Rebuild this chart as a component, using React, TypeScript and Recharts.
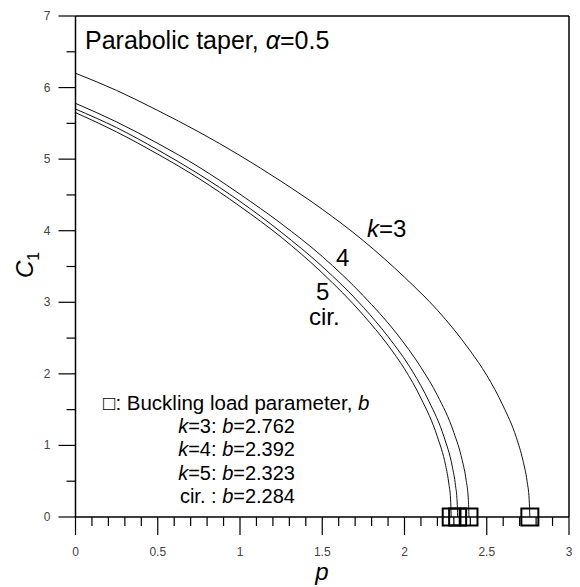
import { ComposedChart, Line, Scatter, XAxis, YAxis, ReferenceLine } from "recharts";

// curve k=3
const k3P = [0, 0.25, 0.5, 0.75, 1.0, 1.25, 1.5, 1.75, 2.0, 2.2, 2.4, 2.5, 2.6, 2.68, 2.72, 2.745, 2.758, 2.762];
const k3C = [6.2, 5.96, 5.68, 5.38, 5.05, 4.69, 4.3, 3.86, 3.35, 2.89, 2.32, 1.98, 1.55, 1.11, 0.79, 0.5, 0.24, 0];
// curve k=4
const k4P = [0, 0.25, 0.5, 0.75, 1.0, 1.25, 1.5, 1.75, 1.95, 2.1, 2.2, 2.3, 2.35, 2.375, 2.388, 2.392];
const k4C = [5.78, 5.52, 5.22, 4.89, 4.51, 4.1, 3.64, 3.09, 2.57, 2.09, 1.7, 1.18, 0.8, 0.51, 0.25, 0];
// curve k=5
const k5P = [0, 0.25, 0.5, 0.75, 1.0, 1.25, 1.5, 1.75, 1.9, 2.05, 2.15, 2.24, 2.29, 2.31, 2.32, 2.323];
const k5C = [5.7, 5.44, 5.13, 4.79, 4.41, 3.98, 3.5, 2.93, 2.52, 2.03, 1.61, 1.12, 0.71, 0.44, 0.21, 0];
// circular
const cirP = [0, 0.25, 0.5, 0.75, 1.0, 1.25, 1.5, 1.75, 1.9, 2.0, 2.1, 2.2, 2.25, 2.27, 2.28, 2.284];
const cirC = [5.65, 5.38, 5.07, 4.73, 4.34, 3.91, 3.41, 2.82, 2.4, 2.07, 1.66, 1.12, 0.72, 0.46, 0.25, 0];

// buckling load parameter b
const bucklingNames = ["k=3", "k=4", "k=5", "cir."];
const bucklingB = [2.762, 2.392, 2.323, 2.284];

const xTicks = [0, 0.1, 0.2, 0.3, 0.4, 0.5, 0.6, 0.7, 0.8, 0.9, 1, 1.1, 1.2, 1.3, 1.4, 1.5, 1.6, 1.7, 1.8, 1.9, 2, 2.1, 2.2, 2.3, 2.4, 2.5, 2.6, 2.7, 2.8, 2.9, 3];
const xLabels = ["0", "0.5", "1", "1.5", "2", "2.5", "3"];
const yTicks = [0, 0.5, 1, 1.5, 2, 2.5, 3, 3.5, 4, 4.5, 5, 5.5, 6, 6.5, 7];
const yLabels = ["0", "1", "2", "3", "4", "5", "6", "7"];

const toRows = (ps: number[], cs: number[]) => ps.map((p, i) => ({ p, c: cs[i] }));
const curves = [toRows(k3P, k3C), toRows(k4P, k4C), toRows(k5P, k5C), toRows(cirP, cirC)];
const boxes = bucklingB.map((b, i) => ({ p: b, c: 0, name: bucklingNames[i] }));

const font = "'Liberation Sans', Arial, sans-serif";

const XTick = (props: any) => {
  const { x, y, payload } = props;
  const v = Math.round(payload.value * 10) / 10;
  const major = Math.abs(v * 2 - Math.round(v * 2)) < 1e-6;
  const label = xLabels.find((l) => Math.abs(parseFloat(l) - v) < 1e-6);
  return (
    <g>
      <line x1={x} x2={x} y1={y} y2={y + (major ? 18 : 9)} stroke="#000" strokeWidth={1.2} />
      {label && (
        <text x={x} y={y + 39} textAnchor="middle" fontSize={12} fill="#444" fontFamily={font}>{label}</text>
      )}
    </g>
  );
};

const YTick = (props: any) => {
  const { x, y, payload } = props;
  const v = payload.value;
  const major = Math.abs(v - Math.round(v)) < 1e-6;
  const label = yLabels.find((l) => Math.abs(parseFloat(l) - v) < 1e-6);
  return (
    <g>
      <line x1={x} x2={x - (major ? 17 : 9)} y1={y} y2={y} stroke="#000" strokeWidth={1.2} />
      {label && (
        <text x={x - 25} y={y + 4} textAnchor="end" fontSize={12} fill="#444" fontFamily={font}>{label}</text>
      )}
    </g>
  );
};

const Box = (props: any) => {
  const { cx, cy } = props;
  return <rect x={cx - 8.5} y={cy - 8.5} width={17} height={17} fill="none" stroke="#000" strokeWidth={2} />;
};

export default function App() {
  return (
    <div style={{ position: "absolute", left: 0, top: 0, width: 580, height: 587, background: "#fff" }}>
      <ComposedChart width={580} height={587} margin={{ top: 16, right: 11, bottom: 20, left: 20 }}>
        <XAxis
          type="number"
          dataKey="p"
          domain={[0, 3]}
          ticks={xTicks}
          interval={0}
          height={50}
          tickSize={0}
          tickMargin={0}
          tickLine={false}
          tick={<XTick />}
          axisLine={{ stroke: "#000", strokeWidth: 1.5 }}
        />
        <YAxis
          type="number"
          dataKey="c"
          domain={[0, 7]}
          ticks={yTicks}
          interval={0}
          width={55.5}
          tickSize={0}
          tickMargin={0}
          tickLine={false}
          tick={<YTick />}
          axisLine={{ stroke: "#000", strokeWidth: 1.5 }}
        />
        <ReferenceLine y={7} stroke="#000" strokeWidth={1.5} />
        <ReferenceLine x={3} stroke="#000" strokeWidth={1.5} />
        {curves.map((d, i) => (
          <Line
            key={i}
            data={d}
            dataKey="c"
            type="monotone"
            stroke="#111"
            strokeWidth={1}
            dot={false}
            isAnimationActive={false}
          />
        ))}
        <Scatter data={boxes} dataKey="c" shape={<Box />} isAnimationActive={false} />
      </ComposedChart>
      <svg width={580} height={587} style={{ position: "absolute", left: 0, top: 0, pointerEvents: "none" }} fontFamily={font}>
        <text x={85} y={49} fontSize={25} fill="#000">
          Parabolic taper, <tspan fontStyle="italic">α</tspan>=0.5
        </text>
        <text x={367} y={237} fontSize={24} fill="#000"><tspan fontStyle="italic">k</tspan>=3</text>
        <text x={336} y={266} fontSize={24} fill="#000">4</text>
        <text x={316} y={300} fontSize={24} fill="#000">5</text>
        <text x={309} y={325} fontSize={24} fill="#000">cir.</text>

        <text x={103} y={410} fontSize={20.5} fill="#000">
          □: Buckling load parameter, <tspan fontStyle="italic">b</tspan>
        </text>
        {bucklingNames.map((n, i) => (
          <text key={n} x={295} y={433 + i * 23.3} fontSize={20} fill="#000" textAnchor="end">
            {n === "cir." ? "cir. " : <tspan fontStyle="italic">k</tspan>}
            {n === "cir." ? "" : n.slice(1)}: <tspan fontStyle="italic">b</tspan>={bucklingB[i].toFixed(3)}
          </text>
        ))}

        <text transform="translate(33,278) rotate(-90)" fontSize={24} fill="#000">
          <tspan fontStyle="italic">C</tspan>
          <tspan fontSize={16} dy={6}>1</tspan>
        </text>
        <text x={322} y={580} fontSize={24} fontStyle="italic" textAnchor="middle" fill="#000">p</text>
      </svg>
    </div>
  );
}
